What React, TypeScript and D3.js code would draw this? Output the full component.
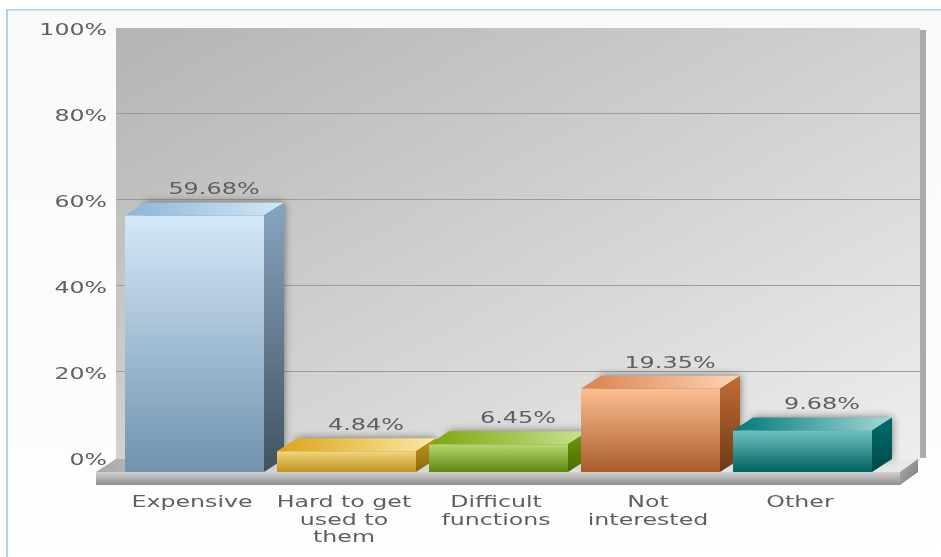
import React from "react";
import * as d3 from "d3";

const categories = ["Expensive", "Hard to get|used to|them", "Difficult|functions", "Not|interested", "Other"];
const values = [59.68, 4.84, 6.45, 19.35, 9.68];
const valueLabels = ["59.68%", "4.84%", "6.45%", "19.35%", "9.68%"];
const ticks = [0, 20, 40, 60, 80, 100];
const palette = [
  { front: ["#d3e9f9", "#7192ad"], top: ["#8db4d6", "#d2e8f8"], side: ["#86a6c1", "#41525f"] },
  { front: ["#f3d67e", "#c0931f"], top: ["#dba515", "#fbe8a6"], side: ["#cc9518", "#87680f"] },
  { front: ["#b8d872", "#5c880e"], top: ["#7ca60b", "#cbe292"], side: ["#6f9c08", "#496b04"] },
  { front: ["#fdbe91", "#a85c2b"], top: ["#d9824c", "#fdd5b6"], side: ["#c56d33", "#6c3919"] },
  { front: ["#72c0c0", "#006262"], top: ["#007878", "#a3d9d9"], side: ["#006e6e", "#004848"] },
];

const W = 941, H = 557;
const dx = 20, dy = -13;
const floorDrop = 14;
const y = d3.scaleLinear().domain([0, 100]).range([458, 28]);
const x = d3.scaleBand<number>().domain(d3.range(values.length)).range([125, 872]).paddingInner(13 / 152).paddingOuter(0);
const wallL = 116, wallR = 920, floorL = 96, floorR = 900, floorY = 472, floorB = 485;
const poly = (pts: [number, number][]) => d3.line()(pts) + "Z";

function Stretch({ x: tx, y: ty, size, anchor, sx = 1.42, children }: any) {
  return (
    <text transform={`translate(${tx},${ty}) scale(${sx},1)`} fontSize={size} fontFamily="'DejaVu Sans'" fill="#5e5e5e" textAnchor={anchor}>
      {children}
    </text>
  );
}

function Grad({ id, c, horizontal }: { id: string; c: string[]; horizontal?: boolean }) {
  return (
    <linearGradient id={id} x1="0" y1="0" x2={horizontal ? 1 : 0} y2={horizontal ? 0 : 1}>
      <stop offset="0" stopColor={c[0]} />
      <stop offset="1" stopColor={c[1]} />
    </linearGradient>
  );
}

export default function App() {
  return (
    <svg width={W} height={H} style={{ position: "absolute", left: 0, top: 0, background: "#fff" }}>
      <defs>
        <linearGradient id="panel" x1="0" y1="0" x2="0" y2="1">
          <stop offset="0" stopColor="#f9f9f9" />
          <stop offset="0.75" stopColor="#fcfcfc" />
          <stop offset="1" stopColor="#ffffff" />
        </linearGradient>
        <linearGradient id="wall" x1="0" y1="0" x2="1" y2="1">
          <stop offset="0" stopColor="#b4b4b2" />
          <stop offset="1" stopColor="#eeeeec" />
        </linearGradient>
        <linearGradient id="strip" x1="0" y1="0" x2="0" y2="1">
          <stop offset="0" stopColor="#d0d0d0" />
          <stop offset="1" stopColor="#8e8e8e" />
        </linearGradient>
        <linearGradient id="floorTop" x1="0" y1="0" x2="1" y2="0">
          <stop offset="0" stopColor="#a8a8a8" />
          <stop offset="0.12" stopColor="#cfcfcf" />
          <stop offset="1" stopColor="#e8e8e8" />
        </linearGradient>
        <linearGradient id="floorSide" x1="0" y1="0" x2="1" y2="1">
          <stop offset="0" stopColor="#b0b0b0" />
          <stop offset="1" stopColor="#777" />
        </linearGradient>
        <filter id="soft" x="-2%" y="-2%" width="104%" height="104%">
          <feGaussianBlur stdDeviation="0.4" />
        </filter>
        <filter id="shadow" x="-30%" y="-30%" width="160%" height="160%">
          <feGaussianBlur stdDeviation="4" />
        </filter>
        {palette.map((p, i) => (
          <React.Fragment key={i}>
            <Grad id={`f${i}`} c={p.front} />
            <Grad id={`t${i}`} c={p.top} horizontal />
            <Grad id={`s${i}`} c={p.side} />
          </React.Fragment>
        ))}
      </defs>

      <g filter="url(#soft)">
        <rect x={7} y={10} width={W - 7} height={H - 10} fill="url(#panel)" />
        <rect x={6} y={9} width={W - 6} height={1.5} fill="#a9d3f1" />
        <rect x={6} y={9} width={2} height={H - 9} fill="#a9d3f1" />

        <rect x={wallR} y={y(100) + 2} width={6} height={y(0) - y(100) - 2} fill="#ababab" />
        <rect x={wallL} y={y(100)} width={wallR - wallL} height={y(0) - y(100) + 4} fill="url(#wall)" />
        {ticks.filter((t) => t > 0 && t < 100).map((t) => (
          <line key={t} x1={wallL} x2={wallR} y1={Math.round(y(t)) - 0.5} y2={Math.round(y(t)) - 0.5} stroke="#9c9c9a" strokeWidth={1} />
        ))}

        <path d={poly([[floorL, floorY], [wallL, floorY + dy], [wallR, floorY + dy], [floorR, floorY]])} fill="url(#floorTop)" />
        <rect x={floorL} y={floorY} width={floorR - floorL} height={floorB - floorY} fill="url(#strip)" />
        <path d={poly([[floorR, floorY], [wallR - 2, floorY + dy], [wallR - 2, floorB + dy], [floorR, floorB]])} fill="url(#floorSide)" />

        {ticks.map((t) => (
          <Stretch key={t} x={107} y={y(t) + 6.5} size={16} anchor="end" sx={1.48}>{`${t}%`}</Stretch>
        ))}

        {values.map((v, i) => {
          const x0 = x(i)!;
          const x1 = x0 + x.bandwidth();
          const top = y(v) + floorDrop;
          return (
            <g key={i}>
              <path
                d={poly([[x0 + dx, top + dy], [x1 + dx, top + dy], [x1 + dx, floorY + dy], [x0 + dx, floorY + dy]])}
                fill="#000"
                opacity={0.5}
                filter="url(#shadow)"
              />
              <rect x={x0} y={top} width={x.bandwidth()} height={floorY - top} fill={`url(#f${i})`} />
              <path d={poly([[x0, top], [x0 + dx, top + dy], [x1 + dx, top + dy], [x1, top]])} fill={`url(#t${i})`} />
              <path d={poly([[x1, top], [x1 + dx, top + dy], [x1 + dx, floorY + dy], [x1, floorY]])} fill={`url(#s${i})`} />
            </g>
          );
        })}

        {values.map((v, i) => (
          <Stretch key={i} x={x(i)! + 89} y={y(v) + floorDrop + dy - 8} size={16.5} anchor="middle" sx={1.45}>
            {valueLabels[i]}
          </Stretch>
        ))}

        {categories.map((c, i) =>
          c.split("|").map((line, j) => (
            <Stretch key={j} x={x(i)! + 67} y={507 + j * 17.5} size={15.5} anchor="middle" sx={1.53}>
              {line}
            </Stretch>
          ))
        )}
      </g>
    </svg>
  );
}
